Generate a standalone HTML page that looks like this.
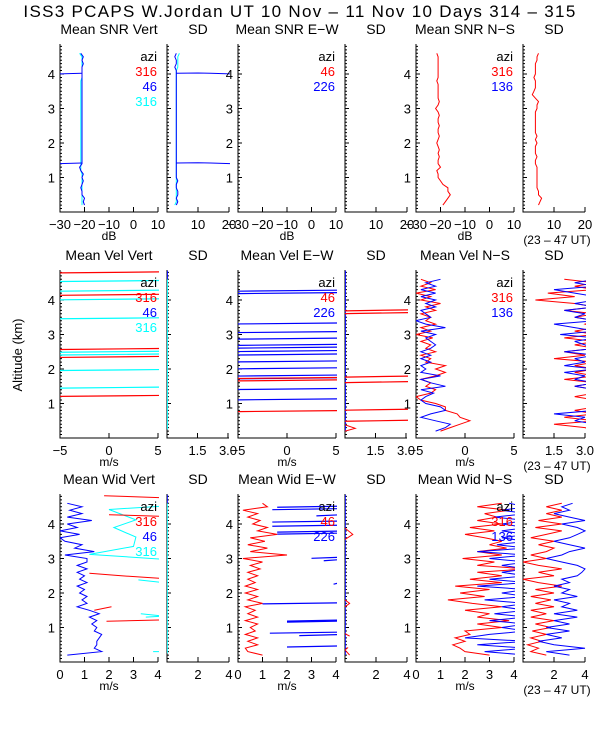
<!DOCTYPE html>
<html><head><meta charset="utf-8"><style>
body{margin:0;background:#fff}
svg{display:block;font-family:"Liberation Sans",sans-serif}
</style></head><body>
<svg id="chart" width="600" height="750" viewBox="0 0 600 750">
<text x="300" y="17" text-anchor="middle" font-size="17" letter-spacing="1.3">ISS3 PCAPS W.Jordan UT  10 Nov – 11 Nov 10 Days 314 – 315</text>
<text transform="translate(22,355) rotate(-90)" text-anchor="middle" font-size="13">Altitude (km)</text>
</svg>
<script>
const altitudes=[0.2,0.3,0.4,0.5,0.6,0.7,0.8,0.9,1.0,1.1,1.2,1.3,1.4,1.5,1.6,1.7,1.8,1.9,2.0,2.1,2.2,2.3,2.4,2.5,2.6,2.7,2.8,2.9,3.0,3.1,3.2,3.3,3.4,3.5,3.6,3.7,3.8,3.9,4.0,4.1,4.2,4.3,4.4,4.5,4.6];
// Row 1 SNR
const snrVertBlue=[-20,-20.5,-20,-21,-21,-21.5,-21,-20.5,-21,-20.5,-21.5,-22,-21,-21,-21,-21,-21,-21,-21,-21,-21,-21,-21,-21,-21,-21,-21,-21,-21,-21,-21,-21,-21,-21,-21,-21,-21,-21,-21,-21,-21,-20.5,-21,-20.5,-21.5];
const snrVertCyan=[-21,-21,-21,-21,-21,-21,-21,-21,-21,-21,-21.5,-21.5,-21.5,-21.5,-21.5,-21.5,-21.5,-21.5,-21.5,-21.5,-21.5,-21.5,-21.5,-21.5,-21.5,-21.5,-21.5,-21.5,-21.5,-21.5,-21.5,-21.5,-21.5,-21.5,-21.5,-21.5,-21.5,-21,-21,-21,-21,-21,-21,-21,-22];
const snrVertBlueSpikeAlts=[1.42,4.02];
const snrSdBlue=[3,3.5,3,3.5,3.5,3,3,3.5,3,3,3,3,3,3,3,3,3,3,3,3,3,3,3,3,3,3,3,3,3,3,3,3,3,3,3,3,3,3,3,3,2.5,3,3,2.5,3];
const snrSdCyan=[2.5,3,3,3,3,3,3,3,3,3,3,3,3,3,3,3,3,3,3,3,3,3,3,3,3,3,3,3,3,3,3,3,3,3,3,3,3,3,3,3,3.5,3.5,3.5,3.5,4];
const snrSdBlueSpikeAlts=[1.42,4.02];
const snrNsRed=[-19,-18,-17,-16,-17,-17,-19,-20,-21,-21,-21.5,-20,-21,-21,-20.5,-21,-20.5,-21,-21.5,-21,-20.5,-21,-21,-20.5,-21,-21,-20.5,-21,-22,-21,-20.5,-21,-21,-21,-21,-21,-21.5,-21,-21,-21,-21,-21,-21,-21,-21.5];
const snrNsSdRed=[5,5.5,6,5,5,4.5,4.5,4.5,4.5,4.5,4.5,4.5,4,4,4.5,4,4,4,4.5,4,4.5,4,4,4,4,4,4,4,4.5,4.5,5,4,3,3.5,4,4,4,3.5,4,4,4,4,4.5,4.5,5];
// Row 2 velocity
const velVertRedLevels=[4.8,4.15,2.58,2.35,1.22];
const velVertCyanLevels=[4.55,4.27,4.02,3.47,2.5,2.42,1.97,1.46];
const velEwBlueLevels=[4.27,4.2,3.32,3.07,2.88,2.7,2.62,2.52,2.42,2.22,2.02,1.81,1.73,1.42,1.12];
const velEwRedLevels=[1.74,1.67,0.78];
const velEwSdRedLevels=[3.7,3.62,1.78,1.62,0.82,0.5];
const velNsRed=[-2.5,-1.5,-0.5,0.5,-0.5,-0.8,-2,-2,-3,-4.5,-5,-3.5,-3,-4,-3.5,-4.5,-3,-2,-3,-2,-4,-3.5,-4.5,-3,-4,-3.5,-4.5,-3.3,-5,-3.5,-4.5,-3,-4,-3.5,-4.5,-3,-4,-2.5,-4.5,-3.5,-5,-3,-4.5,-3.5,-4.5];
const velNsBlue=[-3,-2,-1.5,-3,-4.5,-3.5,-2,-2.5,-4,-4.5,-4,-3.2,-4.5,-2,-3.5,-4.5,-2.5,-4.5,-4,-4.5,-3.5,-4.5,-3.5,-4.5,-3.5,-3,-3.5,-4,-3,-4.5,-2,-4,-5,-3.5,-4,-4.5,-3,-4,-3,-4.5,-3,-4.5,-3,-4,-2.5];
const velNsSdRed=[3.5,3,1.5,3.5,2,3.5,2.5,3.5,3.5,3.5,2.5,3.5,3.5,2.5,3.5,2,3.5,2.5,3.5,2.5,3.5,1.5,3,2,3.5,2.5,3.5,2,3.5,2.5,3.5,3,3.5,2.5,3.5,2,3.5,2.5,0.6,2.5,1.2,3.5,2.5,3.5,2];
const velNsSdBlue=[3.5,3.5,3.5,2.5,3,1.5,3.5,3.5,3.5,3.5,3.5,3.5,3.5,2.5,3.5,2.5,3,2,3.5,2,3,2.5,3.5,2,3.5,3,2.5,3.5,1.8,3.5,2.5,1.5,3.5,2.5,3,2,3.5,2.5,3.5,3.5,2.5,1.5,3.5,2.5,3.5];
// Row 3 width
const widVertBlue=[0.3,1.7,1.4,1.5,1.5,1.6,1.7,1.4,1.5,1.3,1.5,1.2,1.6,1.2,0.7,1.1,0.9,1.1,0.8,1.0,0.7,1.1,0.8,1.0,0.7,1.1,0.7,1.1,1.1,0.2,1.4,0.6,0.9,0.2,0.0,0.8,0.0,0.7,0.3,1.3,0.3,0.9,0.4,0.9,0.3];
const widVertRedAlts=[4.82,4.76,null,4.27,4.22,null,2.57,2.5,2.42,null,1.5,1.6,null,1.18,1.22];
const widVertRedVals=[1.8,4.2,null,2.0,4.2,null,1.2,2.5,4.2,null,1.4,2.1,null,1.9,4.2];
const widVertCyanAlts=[4.52,4.42,4.12,3.9,3.62,3.35,3.12,2.98,null,2.38,2.3,2.26,null,1.4,1.33,1.3,null,0.3,0.3];
const widVertCyanVals=[4.2,2.0,3.1,2.2,3.1,3.0,1.2,4.2,null,3.2,4.2,4.2,null,3.3,4.2,3.5,null,3.8,4.2];
const widEwRed=[1.0,0.4,0.3,0.8,0.4,0.8,0.3,0.7,0.5,0.8,0.3,0.8,0.4,0.7,0.3,1.0,0.4,0.8,0.3,0.8,0.3,0.7,0.4,0.8,0.4,0.9,0.5,1.0,0.2,2.0,0.5,1.2,0.4,1.1,0.5,1.6,0.8,1.2,0.6,0.9,0.4,0.8,0.2,1.2,1.0];
const widEwBlueLevels=[4.5,4.43,4.25,4.07,3.95,3.78,3.72,3.02,2.95,2.27,1.7,1.2,1.17,0.85,0.78,0.45];
const widEwBlueStarts=[1.6,1.4,3.2,1.4,1.4,1.6,1.6,3.0,3.5,3.9,1.0,2.0,2.0,1.3,2.5,2.0];
const widEwSdRedAlts=[3.88,3.7,3.55,null,1.8,1.7,1.6,null,0.82,0.75,null,0.42,0.35,0.2];
const widEwSdRedVals=[0,0.5,0,null,0,0.3,0,null,0,0.3,null,0.2,0,0.3];
const widNsRed=[3,2,1.8,1.5,2,1.6,2.2,2,3.5,2.5,3.8,2.5,3,2,3.5,2.3,1.3,2.8,1.8,3,1.6,3.5,2.2,3.5,2.5,4.5,2.5,3.2,1.9,3.5,2.5,3.7,3,3.5,2.8,2,3.2,2.2,3.5,2.5,3.3,2.8,3.8,2.5,3.5];
const widNsBlue=[4.5,2.8,4.5,2.5,4.5,2,3,4.5,3.5,4.5,3,4.5,3.2,4.5,3.5,4.5,2.8,4.5,3.5,4.5,2.5,4.5,3,4.5,3.5,4.5,3.5,4.5,3,4.5,2.5,4.5,3.3,4.5,3.5,4.5,3.5,4.5,3.5,4.5,3.2,4.5,3.5,4.5,3.8];
const widNsSdRed=[1.5,0.5,1,0.3,1.2,0.5,1.5,0.6,1.8,0.8,2,0.5,1.5,0.5,2,0.8,1.8,0.5,2,0.8,2.5,1,0,2,1,2.5,1,0,1.5,0.5,1.5,2,1,2,0.5,1.5,2.5,0.8,2.5,1,2.5,1.5,2.5,1.5,2.5];
const widNsSdBlue=[3,1.5,4,2,1,2.5,1.5,3,1.5,3,2,3.5,2,3.5,2.5,3,2,3.5,2.5,3,2,3,2.5,3.5,3.8,4,3.5,2.5,1.5,2.5,3,4,3,2,3,3.5,4,3.5,2.5,4,3,2,3,2.5,3.2];

const svg=document.getElementById('chart');
const NS='http://www.w3.org/2000/svg';
const RED='#ff0000',BLUE='#0000ff',CYAN='#00ffff';
const rowBottoms=[212,438,662];
const KM=34.5;
const cols=[[60,158],[167,229],[238,336],[345,407],[416,514],[523,585]];
let clipId=0;
function el(tag,attrs,parent){const e=document.createElementNS(NS,tag);for(const k in attrs)e.setAttribute(k,attrs[k]);(parent||svg).appendChild(e);return e;}
function txt(x,y,s,anchor,size,fill,name){const t=el('text',{x:x,y:y,'text-anchor':anchor,'font-size':size,fill:fill||'#000'});t.textContent=s;


return t;}

function makePanel(row,col,xmin,xmax,title,yLabels,xticks,name){
  const [x0,x1]=cols[col];const yb=rowBottoms[row];const yt=yb-168;
  const g=el('g',{});
  
  
  const sx=v=>x0+(v-xmin)/(xmax-xmin)*(x1-x0);
  const sy=a=>yb-a*KM;
  txt((x0+x1)/2,yt-10,title,'middle',14,'#000',name+'-title');
  const ax=el('path',{d:`M${x0},${yt} V${yb} H${x1}`,stroke:'#000','stroke-width':1,fill:'none'},g);
  
  
  let d='';
  for(let i=1;i<=48;i++){const y=sy(i/10);d+=`M${x0},${y}h${i%10==0?4:2}`;}
  xticks.forEach(t=>{const x=sx(t.v);d+=`M${x},${yb}v-5`;});
  el('path',{d:d,stroke:'#000','stroke-width':1,fill:'none'},g);
  if(yLabels){[1,2,3,4].forEach(k=>txt(x0-5,sy(k)+5,String(k),'end',13,'#000',name+'-ytick-'+k));}
  xticks.forEach(t=>{if(t.l!==null)txt(sx(t.v),yb+17,t.l,'middle',13,'#000',name+'-xtick');});
  const cp=el('clipPath',{id:'c'+(++clipId)},g);el('rect',{x:x0,y:yt-2,width:x1-x0+1,height:yb-yt+2},cp);
  const plot=el('g',{'clip-path':`url(#c${clipId})`},g);
  return {sx,sy,plot,x0,x1,yt,yb,xmin,xmax};
}
function series(p,alts,vals,color,name){
  let d='',pen=false;
  for(let i=0;i<alts.length;i++){
    if(alts[i]===null||vals[i]===null){pen=false;continue;}
    d+=(pen?'L':'M')+p.sx(vals[i]).toFixed(1)+','+p.sy(alts[i]).toFixed(1);pen=true;
  }
  const pa=el('path',{d:d,stroke:color,'stroke-width':1,fill:'none'},p.plot);
  
  
}
function levels(p,alts,color,name,starts){
  alts.forEach((a,i)=>{
    const xs=starts?p.sx(starts[i]):p.x0;
    const l=el('line',{x1:xs,y1:p.sy(a)+0.5,x2:p.x1+2,y2:p.sy(a)-0.5,stroke:color,'stroke-width':1.2},p.plot);
    
    
  });
}
function legend(p,items,name){
  items.forEach((it,i)=>txt(p.x1-1,p.yt+17+i*15,it[0],'end',13,it[1],name+'-legend-'+i));
}
const T=(arr)=>arr.map(v=>({v:v[0],l:v[1]}));

// Row 1
let p=makePanel(0,0,-30,10,'Mean SNR Vert',true,T([[-30,'−30'],[-20,'−20'],[-10,'−10'],[0,'0'],[10,'10']]),'snr-vert-panel');
series(p,altitudes,snrVertCyan,CYAN,'snr-vert-cyan-line');
series(p,altitudes,snrVertBlue,BLUE,'snr-vert-blue-line');
snrVertBlueSpikeAlts.forEach(a=>series(p,[a,a-0.02],[-21,-31],BLUE,'snr-vert-blue-spike'));
legend(p,[['azi','#000'],['316',RED],['46',BLUE],['316',CYAN]],'snr-vert');
txt(109,240,'dB','middle',12,'#000','snr-vert-x-title');
p=makePanel(0,1,0,20,'SD',false,T([[0,null],[10,'10'],[20,'20']]),'snr-vert-sd-panel');
series(p,altitudes,snrSdCyan,CYAN,'snr-vert-sd-cyan-line');
series(p,altitudes,snrSdBlue,BLUE,'snr-vert-sd-blue-line');
snrSdBlueSpikeAlts.forEach(a=>series(p,[a,a+0.01,a,a-0.02],[3,10,14,21],BLUE,'snr-vert-sd-blue-spike'));
p=makePanel(0,2,-30,10,'Mean SNR E−W',true,T([[-30,'−30'],[-20,'−20'],[-10,'−10'],[0,'0'],[10,'10']]),'snr-ew-panel');
legend(p,[['azi','#000'],['46',RED],['226',BLUE]],'snr-ew');
txt(287,240,'dB','middle',12,'#000','snr-ew-x-title');
p=makePanel(0,3,0,20,'SD',false,T([[0,null],[10,'10'],[20,'20']]),'snr-ew-sd-panel');
p=makePanel(0,4,-30,10,'Mean SNR N−S',true,T([[-30,'−30'],[-20,'−20'],[-10,'−10'],[0,'0'],[10,'10']]),'snr-ns-panel');
series(p,altitudes,snrNsRed,RED,'snr-ns-red-line');
legend(p,[['azi','#000'],['316',RED],['136',BLUE]],'snr-ns');
txt(465,240,'dB','middle',12,'#000','snr-ns-x-title');
p=makePanel(0,5,0,20,'SD',false,T([[0,null],[10,'10'],[20,'20']]),'snr-ns-sd-panel');
series(p,altitudes,snrNsSdRed,RED,'snr-ns-sd-red-line');
txt(557,244,'(23 – 47 UT)','middle',12,'#000','time-range-row1');

// Row 2
p=makePanel(1,0,-5,5,'Mean Vel Vert',true,T([[-5,'−5'],[0,'0'],[5,'5']]),'vel-vert-panel');
levels(p,velVertCyanLevels,CYAN,'vel-vert-cyan-line');
levels(p,velVertRedLevels,RED,'vel-vert-red-line');
legend(p,[['azi','#000'],['316',RED],['46',BLUE],['316',CYAN]],'vel-vert');
txt(109,466,'m/s','middle',12,'#000','vel-vert-x-title');
p=makePanel(1,1,0,3.05,'SD',false,T([[0,null],[1.5,'1.5'],[3.0,'3.0']]),'vel-vert-sd-panel');
series(p,[0.25,4.6],[0.02,0.02],CYAN,'vel-vert-sd-cyan-line');
series(p,[4.6,4.85],[0.02,0.02],BLUE,'vel-vert-sd-blue-line');
p=makePanel(1,2,-5,5,'Mean Vel E−W',true,T([[-5,'−5'],[0,'0'],[5,'5']]),'vel-ew-panel');
levels(p,velEwBlueLevels,BLUE,'vel-ew-blue-line');
levels(p,velEwRedLevels,RED,'vel-ew-red-line',[-5,-5,-5]);
legend(p,[['azi','#000'],['46',RED],['226',BLUE]],'vel-ew');
txt(287,466,'m/s','middle',12,'#000','vel-ew-x-title');
p=makePanel(1,3,0,3.05,'SD',false,T([[0,null],[1.5,'1.5'],[3.0,'3.0']]),'vel-ew-sd-panel');
series(p,[0.2,4.85],[0.02,0.02],BLUE,'vel-ew-sd-blue-line');
levels(p,velEwSdRedLevels,RED,'vel-ew-sd-red-line');
series(p,[0.38,0.28,0.2],[0,0.5,0],RED,'vel-ew-sd-red-zigzag');
p=makePanel(1,4,-5,5,'Mean Vel N−S',true,T([[-5,'−5'],[0,'0'],[5,'5']]),'vel-ns-panel');
series(p,altitudes,velNsRed,RED,'vel-ns-red-line');
series(p,altitudes,velNsBlue,BLUE,'vel-ns-blue-line');
legend(p,[['azi','#000'],['316',RED],['136',BLUE]],'vel-ns');
txt(465,466,'m/s','middle',12,'#000','vel-ns-x-title');
p=makePanel(1,5,0,3,'SD',false,T([[0,null],[1.5,'1.5'],[3.0,'3.0']]),'vel-ns-sd-panel');
series(p,altitudes,velNsSdRed,RED,'vel-ns-sd-red-line');
series(p,altitudes,velNsSdBlue,BLUE,'vel-ns-sd-blue-line');
txt(557,470,'(23 – 47 UT)','middle',12,'#000','time-range-row2');

// Row 3
p=makePanel(2,0,0,4,'Mean Wid Vert',true,T([[0,'0'],[1,'1'],[2,'2'],[3,'3'],[4,'4']]),'wid-vert-panel');
series(p,widVertCyanAlts,widVertCyanVals,CYAN,'wid-vert-cyan-line');
series(p,widVertRedAlts,widVertRedVals,RED,'wid-vert-red-line');
series(p,altitudes,widVertBlue,BLUE,'wid-vert-blue-line');
legend(p,[['azi','#000'],['316',RED],['46',BLUE],['316',CYAN]],'wid-vert');
txt(109,690,'m/s','middle',12,'#000','wid-vert-x-title');
p=makePanel(2,1,0,4,'SD',false,T([[0,null],[2,'2'],[4,'4']]),'wid-vert-sd-panel');
series(p,[0.25,4.6],[0.02,0.02],CYAN,'wid-vert-sd-cyan-line');
series(p,[4.6,4.85],[0.02,0.02],BLUE,'wid-vert-sd-blue-line');
p=makePanel(2,2,0,4,'Mean Wid E−W',true,T([[0,'0'],[1,'1'],[2,'2'],[3,'3'],[4,'4']]),'wid-ew-panel');
levels(p,widEwBlueLevels,BLUE,'wid-ew-blue-line',widEwBlueStarts);
series(p,altitudes,widEwRed,RED,'wid-ew-red-line');
legend(p,[['azi','#000'],['46',RED],['226',BLUE]],'wid-ew');
txt(287,690,'m/s','middle',12,'#000','wid-ew-x-title');
p=makePanel(2,3,0,4,'SD',false,T([[0,null],[2,'2'],[4,'4']]),'wid-ew-sd-panel');
series(p,[0.2,4.85],[0.02,0.02],BLUE,'wid-ew-sd-blue-line');
series(p,widEwSdRedAlts,widEwSdRedVals,RED,'wid-ew-sd-red-line');
p=makePanel(2,4,0,4,'Mean Wid N−S',true,T([[0,'0'],[1,'1'],[2,'2'],[3,'3'],[4,'4']]),'wid-ns-panel');
series(p,altitudes,widNsRed,RED,'wid-ns-red-line');
series(p,altitudes,widNsBlue,BLUE,'wid-ns-blue-line');
legend(p,[['azi','#000'],['316',RED],['136',BLUE]],'wid-ns');
txt(465,690,'m/s','middle',12,'#000','wid-ns-x-title');
p=makePanel(2,5,0,4,'SD',false,T([[0,null],[2,'2'],[4,'4']]),'wid-ns-sd-panel');
series(p,altitudes,widNsSdRed,RED,'wid-ns-sd-red-line');
series(p,altitudes,widNsSdBlue,BLUE,'wid-ns-sd-blue-line');
txt(557,694,'(23 – 47 UT)','middle',12,'#000','time-range-row3');
</script>
</body></html>
